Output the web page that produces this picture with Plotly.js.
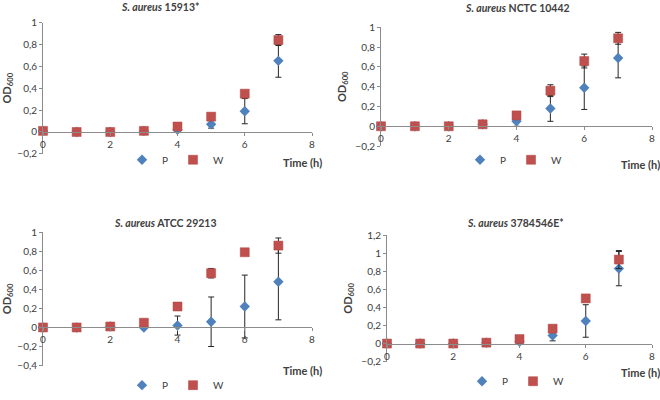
<!DOCTYPE html>
<html>
<head>
<meta charset="utf-8">
<script src="https://cdn.plot.ly/plotly-3.0.1.min.js"></script>
<style>
  body { margin: 0; background: #fff; }
  #chart { width: 660px; height: 400px; }
</style>
</head>
<body>
<div id="chart"></div>
<script>
// time points (h)
const hours = [0, 1, 2, 3, 4, 5, 6, 7];
const xTicks = [0, 2, 4, 6, 8];

// S. aureus 15913*
const p15913 = [0.01, 0, 0, 0.01, 0.02, 0.07, 0.19, 0.65];
const p15913Err = [0, 0, 0, 0, 0.01, 0.035, 0.115, 0.15];
const w15913 = [0.01, 0, 0, 0.01, 0.05, 0.14, 0.35, 0.84];
const w15913Err = [0, 0, 0, 0, 0.01, 0.01, 0.01, 0.05];

// S. aureus NCTC 10442
const pNctc = [0, 0, 0, 0.02, 0.05, 0.18, 0.39, 0.69];
const pNctcErr = [0, 0, 0, 0.01, 0.05, 0.13, 0.22, 0.20];
const wNctc = [0, 0, 0, 0.02, 0.11, 0.36, 0.66, 0.89];
const wNctcErr = [0, 0, 0, 0.01, 0.01, 0.06, 0.07, 0.06];

// S. aureus ATCC 29213
const pAtcc = [0, 0, 0.01, 0, 0.02, 0.06, 0.22, 0.48];
const pAtccErr = [0, 0, 0, 0, 0.10, 0.26, 0.33, 0.40];
const wAtcc = [0, 0, 0.01, 0.05, 0.22, 0.57, 0.79, 0.86];
const wAtccErr = [0, 0, 0, 0.01, 0.01, 0.05, 0.01, 0.08];

// S. aureus 3784546E*
const p3784 = [0, 0, 0, 0.01, 0.02, 0.09, 0.25, 0.83];
const p3784Err = [0, 0, 0, 0, 0.01, 0.06, 0.18, 0.19];
const w3784 = [0, 0, 0, 0.01, 0.05, 0.165, 0.50, 0.93];
const w3784Err = [0, 0, 0, 0, 0.01, 0.01, 0.03, 0.10];

const W = 660, H = 400;
const px = v => v / W;
const py = v => 1 - v / H;

const panels = [
  { title: "<b><i>S. aureus</i> 15913*</b>", p: p15913, pe: p15913Err, w: w15913, we: w15913Err,
    yr: [-0.2, 1], x0: 43, x1: 312, yTop: 23, yBot: 157, titleX: 160, titleY: 7,
    timeX: 302, timeY: 166, legX: 122, legY: 163 },
  { title: "<b><i>S. aureus</i> NCTC 10442</b>", p: pNctc, pe: pNctcErr, w: wNctc, we: wNctcErr,
    yr: [-0.2, 1], x0: 381, x1: 652, yTop: 28, yBot: 149, titleX: 517, titleY: 8,
    timeX: 640, timeY: 168, legX: 460, legY: 163 },
  { title: "<b><i>S. aureus</i> ATCC 29213</b>", p: pAtcc, pe: pAtccErr, w: wAtcc, we: wAtccErr,
    yr: [-0.4, 1], x0: 43, x1: 312, yTop: 237, yBot: 373, titleX: 165, titleY: 228,
    timeX: 302, timeY: 378, legX: 122, legY: 393 },
  { title: "<b><i>S. aureus</i> 3784546E*</b>", p: p3784, pe: p3784Err, w: w3784, we: w3784Err,
    yr: [-0.2, 1.2], x0: 387, x1: 652, yTop: 240, yBot: 369, titleX: 515, titleY: 228,
    timeX: 640, timeY: 380, legX: 462, legY: 389 }
];

const textColor = "#404040";
const axisColor = "#8c8c8c";
const font = { family: "Lato, 'Open Sans', sans-serif", size: 10, color: textColor };

const data = [];
const layout = {
  width: W, height: H,
  margin: { l: 0, r: 0, t: 0, b: 0 },
  paper_bgcolor: "#fff",
  plot_bgcolor: "rgba(0,0,0,0)",
  separators: ",.",
  font: font,
  annotations: []
};

panels.forEach((pn, i) => {
  const n = i + 1;
  const xa = n === 1 ? "x" : "x" + n;
  const ya = n === 1 ? "y" : "y" + n;
  const leg = n === 1 ? "legend" : "legend" + n;

  const yDom = [py(pn.yBot), py(pn.yTop)];
  const zeroPos = yDom[0] + (0 - pn.yr[0]) / (pn.yr[1] - pn.yr[0]) * (yDom[1] - yDom[0]);

  layout["xaxis" + (n === 1 ? "" : n)] = {
    domain: [px(pn.x0), px(pn.x1)],
    range: [0, 8],
    anchor: "free",
    position: zeroPos,
    tickvals: xTicks,
    showgrid: false,
    zeroline: false,
    showline: true,
    linecolor: axisColor,
    linewidth: 1,
    ticks: "outside",
    ticklen: 3,
    tickcolor: axisColor,
    tickfont: { size: 10, color: textColor },
    fixedrange: true
  };
  layout["yaxis" + (n === 1 ? "" : n)] = {
    domain: yDom,
    range: pn.yr,
    anchor: xa,
    dtick: 0.2,
    showgrid: false,
    zeroline: false,
    showline: true,
    linecolor: axisColor,
    linewidth: 1,
    ticks: "outside",
    ticklen: 3,
    tickcolor: axisColor,
    tickfont: { size: 10, color: textColor },
    title: { text: "<b>OD<sub>600</sub></b>", font: { size: 11, color: textColor }, standoff: 6 },
    fixedrange: true
  };
  layout[leg] = {
    orientation: "h",
    x: px(pn.legX), xanchor: "left",
    y: py(pn.legY), yanchor: "middle",
    font: { size: 10, color: textColor },
    itemwidth: 30,
    bgcolor: "rgba(0,0,0,0)",
    traceorder: "normal"
  };

  data.push({
    x: hours, y: pn.p, type: "scatter", mode: "markers", name: "P",
    xaxis: xa, yaxis: ya, legend: leg, cliponaxis: false,
    marker: { symbol: "diamond", size: 8, color: "#4f81bd" },
    error_y: { type: "data", array: pn.pe, visible: true, color: "#262626", thickness: 1, width: 3 }
  });
  data.push({
    x: hours, y: pn.w, type: "scatter", mode: "markers", name: "W",
    xaxis: xa, yaxis: ya, legend: leg, cliponaxis: false,
    marker: { symbol: "square", size: 9, color: "#c0504d", line: { color: "#b04541", width: 0.5 } },
    error_y: { type: "data", array: pn.we, visible: true, color: "#262626", thickness: 1, width: 3 }
  });

  layout.annotations.push({
    text: pn.title, xref: "paper", yref: "paper",
    x: px(pn.titleX), y: py(pn.titleY), xanchor: "center", yanchor: "middle",
    showarrow: false, font: { size: 10.5, color: textColor }
  });
  layout.annotations.push({
    text: "<b>Time (h)</b>", xref: "paper", yref: "paper",
    x: px(pn.timeX), y: py(pn.timeY), xanchor: "center", yanchor: "middle",
    showarrow: false, font: { size: 11, color: textColor }
  });
});

Plotly.newPlot("chart", data, layout, { displayModeBar: false, staticPlot: true });
</script>
</body>
</html>
